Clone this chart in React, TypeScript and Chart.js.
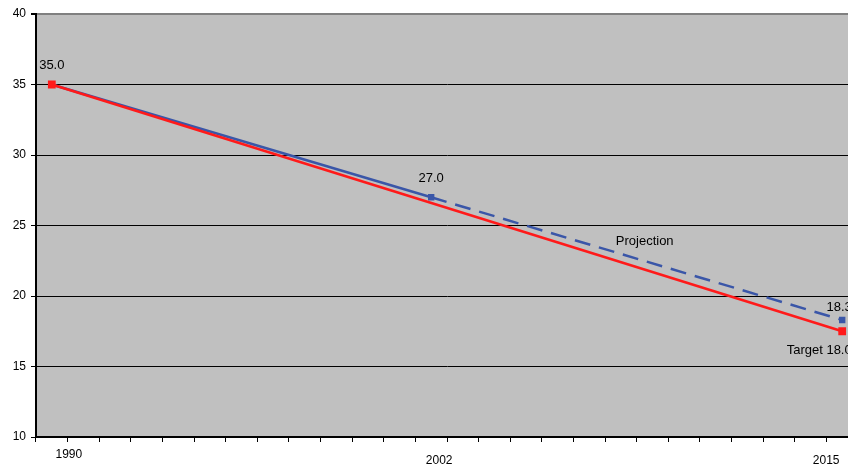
import React, { useEffect, useRef } from "react";
import { Chart, registerables } from "chart.js";

Chart.register(...registerables);

const years = [
  "1990", "1991", "1992", "1993", "1994", "1995", "1996", "1997", "1998",
  "1999", "2000", "2001", "2002", "2003", "2004", "2005", "2006", "2007",
  "2008", "2009", "2010", "2011", "2012", "2013", "2014", "2015",
];

// Actual to 2002, then projection to 2015
const actualValues: (number | null)[] = [
  35.0, null, null, null, null, null, null, null, null, null, null, null,
  27.0, null, null, null, null, null, null, null, null, null, null, null, null,
  18.3,
];

// Target path
const targetValues: (number | null)[] = [
  35.0, null, null, null, null, null, null, null, null, null, null, null,
  null, null, null, null, null, null, null, null, null, null, null, null, null,
  17.5,
];

const shownYearLabels = ["1990", "2002", "2015"];
const targetLabelText = "Target 18.0";
const projectionText = "Projection";
const projectionStartIndex = 12;

const Y_MIN = 10;
const Y_MAX = 40;
const Y_STEP = 5;

const FONT = "Liberation Sans, Arial, sans-serif";

export default function App() {
  const canvasRef = useRef<HTMLCanvasElement | null>(null);

  useEffect(() => {
    document.body.style.overflow = "hidden";
    const canvas = canvasRef.current;
    if (!canvas) return;

    const overlay = {
      id: "overlay",
      beforeDraw(chart: any) {
        const { ctx, chartArea } = chart;
        ctx.save();
        ctx.fillStyle = "#c0c0c0";
        ctx.fillRect(chartArea.left, chartArea.top, chartArea.right - chartArea.left, chartArea.bottom - chartArea.top);
        ctx.restore();
      },
      afterDraw(chart: any) {
        const { ctx } = chart;
        const xs = chart.scales.x;
        const ys = chart.scales.y;
        ctx.save();
        ctx.font = `13px ${FONT}`;
        ctx.fillStyle = "#000";
        ctx.textBaseline = "middle";
        ctx.textAlign = "center";

        // data labels for actual/projection
        const metaA = chart.getDatasetMeta(1);
        const last = actualValues.length - 1;
        actualValues.forEach((v, i) => {
          if (v == null) return;
          const el = metaA.data[i];
          const dy = i === last ? 13 : 19;
          const dx = i === last ? -3 : 0;
          ctx.fillText(v.toFixed(1), el.x + dx, el.y - dy);
        });

        // target label
        const metaT = chart.getDatasetMeta(0);
        const lastT = targetValues.length - 1;
        const elT = metaT.data[lastT];
        ctx.fillText(targetLabelText, elT.x - 23, elT.y + 19);

        // projection text
        const i0 = projectionStartIndex;
        const i1 = actualValues.length - 1;
        const px = (xs.getPixelForValue(i0) + xs.getPixelForValue(i1)) / 2 + 8;
        const midV = ((actualValues[i0] as number) + (actualValues[i1] as number)) / 2;
        const py = ys.getPixelForValue(midV) - 17;
        ctx.fillText(projectionText, px, py);

        // x-axis year labels
        ctx.font = `12px ${FONT}`;
        const xOff: Record<number, [number, number]> = { 0: [17, 18], 1: [8, 24], 2: [-16, 24] };
        shownYearLabels.forEach((lab, k) => {
          const idx = years.indexOf(lab);
          const x = xs.getPixelForValue(idx) + xOff[k][0];
          const y = xs.top + xOff[k][1];
          ctx.fillText(lab, x, y);
        });
        ctx.restore();
      },
    };

    const chart = new Chart(canvas, {
      type: "line",
      data: {
        labels: years,
        datasets: [
          {
            label: "Target",
            data: targetValues,
            borderColor: "#ff1a1a",
            backgroundColor: "#ff1a1a",
            borderWidth: 2.5,
            pointStyle: "rect",
            pointRadius: 5.5,
            pointBorderWidth: 0,
            spanGaps: true,
            tension: 0,
          },
          {
            label: "Actual",
            data: actualValues,
            borderColor: "#3a56a8",
            backgroundColor: "#3a56a8",
            borderWidth: 2.5,
            pointStyle: "rect",
            pointRadius: 4.5,
            pointBorderWidth: 0,
            spanGaps: true,
            tension: 0,
            segment: {
              borderDash: (ctx: any) => (ctx.p0DataIndex >= projectionStartIndex ? [16, 9] : undefined),
            },
          },
        ],
      },
      options: {
        responsive: false,
        animation: false,
        devicePixelRatio: 1,
        layout: { padding: { top: 14, right: 12, left: 0, bottom: 0 } },
        plugins: {
          legend: { display: false },
          tooltip: { enabled: false },
        },
        scales: {
          x: {
            offset: true,
            grid: {
              offset: true,
              drawOnChartArea: false,
              drawTicks: true,
              tickLength: 5,
              color: "#000",
              tickColor: "#000",
            },
            border: { color: "#000", width: 2 },
            ticks: {
              autoSkip: false,
              maxRotation: 0,
              callback: () => "",
            },
            afterFit: (s: any) => {
              s.height = 33;
            },
          },
          y: {
            min: Y_MIN,
            max: Y_MAX,
            ticks: {
              stepSize: Y_STEP,
              color: "#000",
              padding: 5,
              font: { family: FONT, size: 12 },
            },
            grid: {
              color: (c: any) => (c.tick && c.tick.value === Y_MAX ? "#808080" : "#000"),
              lineWidth: (c: any) => (c.tick && c.tick.value === Y_MAX ? 2 : 1),
              tickColor: "#000",
              tickLength: 5,
            },
            border: { color: "#000", width: 2 },
            afterFit: (s: any) => {
              s.width = 36;
            },
          },
        },
      },
      plugins: [overlay],
    });

    return () => chart.destroy();
  }, []);

  return (
    <div style={{ position: "absolute", left: 0, top: 0, width: 848, height: 470, overflow: "hidden", background: "#fff" }}>
      <canvas ref={canvasRef} width={870} height={470} style={{ display: "block" }} />
    </div>
  );
}
